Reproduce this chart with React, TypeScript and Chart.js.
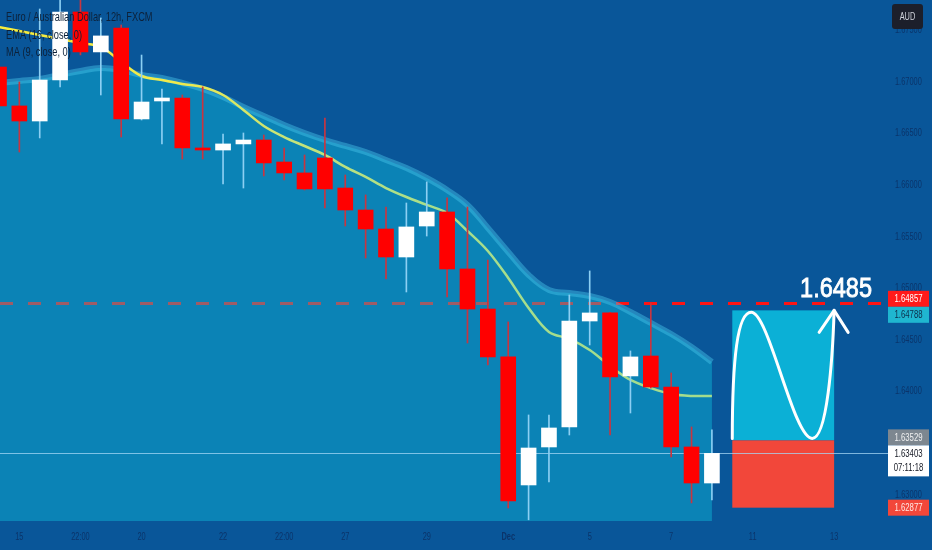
import React, { useEffect, useRef } from 'react';
import { Chart, registerables } from 'chart.js';

Chart.register(...registerables);

// ---------- DATA ----------
const candleIndex = [0, 1, 2, 3, 4, 5, 6, 7, 8, 9, 10, 11, 12, 13, 14, 15, 16, 17, 18, 19, 20, 21, 22, 23, 24, 25, 26, 27, 28, 29, 30, 31, 32, 33, 34, 35];
const opens = [1.67145, 1.66768, 1.66622, 1.67019, 1.67678, 1.67291, 1.67523, 1.66642, 1.66816, 1.66845, 1.66361, 1.66341, 1.66400, 1.66438, 1.66225, 1.66119, 1.66264, 1.65973, 1.65760, 1.65576, 1.65305, 1.65605, 1.65741, 1.65189, 1.64801, 1.64337, 1.63097, 1.63465, 1.63659, 1.64685, 1.64763, 1.64153, 1.64346, 1.64046, 1.63465, 1.63116];
const highs = [1.67213, 1.67000, 1.67707, 1.67850, 1.67950, 1.67620, 1.67552, 1.67261, 1.66932, 1.66874, 1.66952, 1.66496, 1.66506, 1.66487, 1.66361, 1.66293, 1.66651, 1.66099, 1.65906, 1.65789, 1.65828, 1.66032, 1.65877, 1.65789, 1.65276, 1.64676, 1.63775, 1.63775, 1.64937, 1.65170, 1.64770, 1.64395, 1.64860, 1.64182, 1.63659, 1.63630];
const lows = [1.66680, 1.66322, 1.66458, 1.66952, 1.67262, 1.66874, 1.66467, 1.66632, 1.66400, 1.66254, 1.66254, 1.66012, 1.65973, 1.66090, 1.66051, 1.65954, 1.65780, 1.65605, 1.65295, 1.65092, 1.64966, 1.65508, 1.64918, 1.64472, 1.64259, 1.62874, 1.62760, 1.63126, 1.63581, 1.64453, 1.63581, 1.63794, 1.64036, 1.63368, 1.62923, 1.62952];
const closes = [1.66768, 1.66622, 1.67019, 1.67678, 1.67291, 1.67446, 1.66642, 1.66806, 1.66845, 1.66361, 1.66341, 1.66400, 1.66438, 1.66216, 1.66119, 1.65964, 1.65964, 1.65760, 1.65576, 1.65305, 1.65596, 1.65741, 1.65189, 1.64801, 1.64337, 1.62942, 1.63455, 1.63649, 1.64685, 1.64763, 1.64143, 1.64337, 1.64046, 1.63465, 1.63116, 1.63403];

// EMA (16) line and the MA (9) cloud edge
const emaValues = [1.67533, 1.67494, 1.67455, 1.67416, 1.67378, 1.67339, 1.67194, 1.67058, 1.67019, 1.66981, 1.66952, 1.66874, 1.66729, 1.66574, 1.66467, 1.66380, 1.66293, 1.66177, 1.66080, 1.65973, 1.65886, 1.65809, 1.65731, 1.65557, 1.65363, 1.65102, 1.64811, 1.64579, 1.64511, 1.64404, 1.64249, 1.64114, 1.64036, 1.63978, 1.63959, 1.63959];
const maCloud = [1.66990, 1.67010, 1.67029, 1.67068, 1.67107, 1.67136, 1.67116, 1.67068, 1.67039, 1.66990, 1.66932, 1.66855, 1.66758, 1.66671, 1.66584, 1.66506, 1.66438, 1.66380, 1.66322, 1.66245, 1.66167, 1.66070, 1.65954, 1.65809, 1.65586, 1.65354, 1.65131, 1.64986, 1.64956, 1.64927, 1.64869, 1.64772, 1.64666, 1.64559, 1.64434, 1.64288];

// axes
const yMin = 1.62748;
const yMax = 1.67794;
const xMin = 0.05;
const xMax = 43.35;
const yTickValues = [1.63, 1.635, 1.64, 1.645, 1.65, 1.655, 1.66, 1.665, 1.67, 1.675];
const xTickIndex = [1, 4, 7, 11, 14, 17, 21, 25, 29, 33, 37, 41];
const xTickLabels = ['15', '22:00', '20', '22', '22:00', '27', '29', 'Dec', '5', '7', '11', '13'];

// levels and annotations
const alertLevel = 1.64857;
const alertText = '1.6485';
const lastPrice = 1.63403;
const countdown = '07:11:18';
const positionStart = 36;
const positionEnd = 41;
const targetPrice = 1.64788;
const entryPrice = 1.63529;
const stopPrice = 1.62877;
const legendLines = ['Euro / Australian Dollar, 12h, FXCM', 'EMA (16, close, 0)', 'MA (9, close, 0)'];
const currencyLabel = 'AUD';

// ---------- STYLE ----------
const BG = '#095699';
const FONT = "'Liberation Sans', Arial, sans-serif";
const SX = 0.74; // horizontal squeeze of all text, as in the screenshot
const AXIS_TEXT = '#0b346a';

const isUp = candleIndex.map((i) => closes[i] >= opens[i]);

function drawText(c: CanvasRenderingContext2D, text: string, x: number, y: number, font: string, color: string, align: CanvasTextAlign, baseline: CanvasTextBaseline, sx = SX, strokeW = 0) {
  c.save();
  c.translate(x, y);
  c.scale(sx, 1);
  c.font = font;
  c.fillStyle = color;
  c.textAlign = align;
  c.textBaseline = baseline;
  c.fillText(text, 0, 0);
  if (strokeW > 0) {
    c.strokeStyle = color;
    c.lineWidth = strokeW;
    c.strokeText(text, 0, 0);
  }
  c.restore();
}

export default function App() {
  const ref = useRef<HTMLCanvasElement | null>(null);

  useEffect(() => {
    const canvas = ref.current;
    if (!canvas) return;

    const bgPlugin = {
      id: 'bgFill',
      beforeDraw(chart: any) {
        const c = chart.ctx;
        c.save();
        c.fillStyle = BG;
        c.fillRect(0, 0, chart.width, chart.height);
        c.restore();
      },
    };

    const levelsPlugin = {
      id: 'levels',
      beforeDatasetsDraw(chart: any) {
        const { ctx: c, chartArea: a, scales } = chart;
        const y = Math.round(scales.y.getPixelForValue(alertLevel)) + 0.5;
        c.save();
        c.strokeStyle = '#ff1414';
        c.lineWidth = 3;
        c.setLineDash([13, 15]);
        c.beginPath();
        c.moveTo(a.left, y);
        c.lineTo(a.right, y);
        c.stroke();
        c.restore();
      },
      afterDatasetDraw(chart: any, args: any) {
        if (args.index !== 3) return;
        const { ctx: c, chartArea: a, scales } = chart;
        const xs = scales.x;
        const ys = scales.y;
        const L = xs.getPixelForValue(positionStart);
        const R = xs.getPixelForValue(positionEnd);
        const T = ys.getPixelForValue(targetPrice);
        const M = ys.getPixelForValue(entryPrice);
        const B = ys.getPixelForValue(stopPrice);
        c.save();
        c.fillStyle = '#0bb0d6';
        c.fillRect(L, T, R - L, M - T);
        c.fillStyle = '#f2473a';
        c.fillRect(L, M, R - L, B - M);
        // sine-like drawing with arrow
        const W = R - L;
        const H = M - T;
        const P = (u: number, v: number) => [L + u * W, T + v * H];
        const pts = [
          [0, 0.985], [0, 0.38], [0.05, 0.015], [0.186, 0.015],
          [0.36, 0.015], [0.6, 0.985], [0.785, 0.985],
          [0.93, 0.985], [0.985, 0.38], [1.0, 0.0],
        ].map(([u, v]) => P(u, v));
        c.strokeStyle = '#ffffff';
        c.lineWidth = 3;
        c.lineCap = 'round';
        c.lineJoin = 'round';
        c.beginPath();
        c.moveTo(pts[0][0], pts[0][1]);
        for (let k = 1; k + 2 < pts.length; k += 3) {
          c.bezierCurveTo(pts[k][0], pts[k][1], pts[k + 1][0], pts[k + 1][1], pts[k + 2][0], pts[k + 2][1]);
        }
        c.stroke();
        const tip = pts[pts.length - 1];
        c.beginPath();
        c.moveTo(tip[0] - 15, tip[1] + 22);
        c.lineTo(tip[0], tip[1]);
        c.lineTo(tip[0] + 14, tip[1] + 22);
        c.stroke();
        // last price line
        const yl = Math.round(ys.getPixelForValue(lastPrice)) + 0.5;
        c.strokeStyle = 'rgba(165, 215, 245, 0.75)';
        c.lineWidth = 1;
        c.beginPath();
        c.moveTo(a.left, yl);
        c.lineTo(a.right + 6, yl);
        c.stroke();
        c.restore();
      },
      afterDraw(chart: any) {
        const { ctx: c, chartArea: a, scales } = chart;
        const xs = scales.x;
        const ys = scales.y;
        c.save();

        // axis tick labels (positions from the scales)
        yTickValues.forEach((v) => {
          drawText(c, v.toFixed(5), a.right + 13, ys.getPixelForValue(v), `10px ${FONT}`, AXIS_TEXT, 'left', 'middle');
        });
        xTickIndex.forEach((v, k) => {
          const bold = xTickLabels[k] === 'Dec';
          drawText(c, xTickLabels[k], xs.getPixelForValue(v), a.bottom + 16, `${bold ? 'bold ' : ''}10px ${FONT}`, AXIS_TEXT, 'center', 'middle');
        });

        // legend
        const legendBase = [21, 38.5, 56];
        legendLines.forEach((t, k) => {
          drawText(c, t, 6, legendBase[k], `12.5px ${FONT}`, '#0d2139', 'left', 'alphabetic');
        });

        // big level text
        const yAlert = ys.getPixelForValue(alertLevel);
        drawText(c, alertText, a.right - 10, yAlert - 6, `28px ${FONT}`, '#ffffff', 'right', 'alphabetic', 0.84, 0.9);

        // currency box
        c.fillStyle = '#1c1f2b';
        c.beginPath();
        (c as any).roundRect(a.right + 10, 4, 31, 25, 3);
        c.fill();
        drawText(c, currencyLabel, a.right + 25.5, 17, `10px ${FONT}`, '#d1d4dc', 'center', 'middle');

        // price tags
        type Tag = { value: number; bg: string; fg: string; lines: string[]; fixed?: boolean; top?: number; h?: number };
        const tags: Tag[] = [
          { value: alertLevel, bg: '#ff1a1a', fg: '#ffffff', lines: [alertLevel.toFixed(5)] },
          { value: targetPrice, bg: '#1fb6d0', fg: '#0d2c4a', lines: [targetPrice.toFixed(5)] },
          { value: entryPrice, bg: '#7d8790', fg: '#f0f0f0', lines: [entryPrice.toFixed(5)] },
          { value: lastPrice, bg: '#ffffff', fg: '#131722', lines: [lastPrice.toFixed(5), countdown], fixed: true },
          { value: stopPrice, bg: '#f2473a', fg: '#ffe8e4', lines: [stopPrice.toFixed(5)] },
        ];
        tags.forEach((t) => {
          t.h = t.lines.length === 1 ? 16 : 31;
          t.top = ys.getPixelForValue(t.value) - 8;
        });
        tags.sort((p, q) => (p.top as number) - (q.top as number));
        for (let it = 0; it < 30; it++) {
          for (let k = 0; k + 1 < tags.length; k++) {
            const p = tags[k];
            const q = tags[k + 1];
            const ov = (p.top as number) + (p.h as number) - (q.top as number);
            if (ov > 0) {
              if (p.fixed) q.top = (q.top as number) + ov;
              else if (q.fixed) p.top = (p.top as number) - ov;
              else {
                p.top = (p.top as number) - ov / 2;
                q.top = (q.top as number) + ov / 2;
              }
            }
          }
        }
        const tx = a.right + 6;
        const tw = 41;
        tags.forEach((t) => {
          c.fillStyle = t.bg;
          c.fillRect(tx, t.top as number, tw, t.h as number);
          t.lines.forEach((line, k) => {
            drawText(c, line, tx + tw / 2, (t.top as number) + 8.5 + k * 14, `10.5px ${FONT}`, t.fg, 'center', 'middle');
          });
        });
        c.restore();
      },
    };

    const emaGradient = (context: any) => {
      const chart = context.chart;
      const a = chart.chartArea;
      if (!a) return '#f3ea4a';
      const g = chart.ctx.createLinearGradient(a.left, 0, a.right, 0);
      g.addColorStop(0, '#f6ec3c');
      g.addColorStop(0.2, '#f0ea4c');
      g.addColorStop(0.33, '#c4e47a');
      g.addColorStop(0.5, '#a6de8c');
      g.addColorStop(1, '#a2dc8e');
      return g;
    };

    const noPad = (s: any) => {
      s.paddingTop = 0;
      s.paddingBottom = 0;
      s.paddingLeft = 0;
      s.paddingRight = 0;
    };

    const chart = new Chart(canvas, {
      type: 'bar',
      data: {
        datasets: [
          {
            type: 'bar',
            label: 'body',
            data: candleIndex.map((i) => ({ x: i, y: [opens[i], closes[i]] })) as any,
            backgroundColor: candleIndex.map((i) => (isUp[i] ? '#ffffff' : '#ff0000')),
            barThickness: 15,
            grouped: false,
            borderWidth: 0,
            order: 1,
          } as any,
          {
            type: 'bar',
            label: 'wick',
            data: candleIndex.map((i) => ({ x: i, y: [lows[i], highs[i]] })) as any,
            backgroundColor: candleIndex.map((i) => (isUp[i] ? '#8ccff3' : '#c93540')),
            barThickness: 1,
            grouped: false,
            borderWidth: 0,
            order: 2,
          } as any,
          {
            type: 'line',
            label: 'EMA (16, close, 0)',
            data: candleIndex.map((i) => ({ x: i, y: emaValues[i] })),
            borderColor: emaGradient,
            borderWidth: 2.5,
            pointRadius: 0,
            tension: 0.35,
            fill: false,
            order: 3,
          } as any,
          {
            type: 'line',
            label: 'MA (9, close, 0)',
            data: candleIndex.map((i) => ({ x: i, y: maCloud[i] })),
            borderColor: 'rgba(70, 195, 232, 0.45)',
            borderWidth: 6,
            backgroundColor: 'rgba(16, 201, 226, 0.40)',
            fill: 'start',
            pointRadius: 0,
            tension: 0.4,
            order: 4,
          } as any,
        ],
      },
      options: {
        responsive: false,
        animation: false,
        events: [],
        devicePixelRatio: 1,
        layout: { padding: 0 },
        plugins: {
          legend: { display: false },
          tooltip: { enabled: false },
          title: { display: false },
        },
        scales: {
          x: {
            type: 'linear',
            offset: false,
            min: xMin,
            max: xMax,
            grid: { display: false, drawTicks: false },
            border: { display: false },
            afterFit: (s: any) => {
              s.height = 29;
              noPad(s);
            },
            afterBuildTicks: (s: any) => {
              s.ticks = xTickIndex.map((v) => ({ value: v }));
            },
            ticks: { display: false, autoSkip: false, maxRotation: 0 },
          },
          y: {
            type: 'linear',
            position: 'right',
            min: yMin,
            max: yMax,
            grid: { display: false, drawTicks: false },
            border: { display: false },
            afterFit: (s: any) => {
              s.width = 50;
              noPad(s);
            },
            afterBuildTicks: (s: any) => {
              s.ticks = yTickValues.map((v) => ({ value: v }));
            },
            ticks: { display: false },
          },
        },
      } as any,
      plugins: [bgPlugin, levelsPlugin],
    });

    return () => {
      chart.destroy();
    };
  }, []);

  return (
    <div style={{ position: 'fixed', left: 0, top: 0, width: 932, height: 550, background: BG }}>
      <canvas ref={ref} width={932} height={550} style={{ display: 'block', width: 932, height: 550 }} />
    </div>
  );
}
